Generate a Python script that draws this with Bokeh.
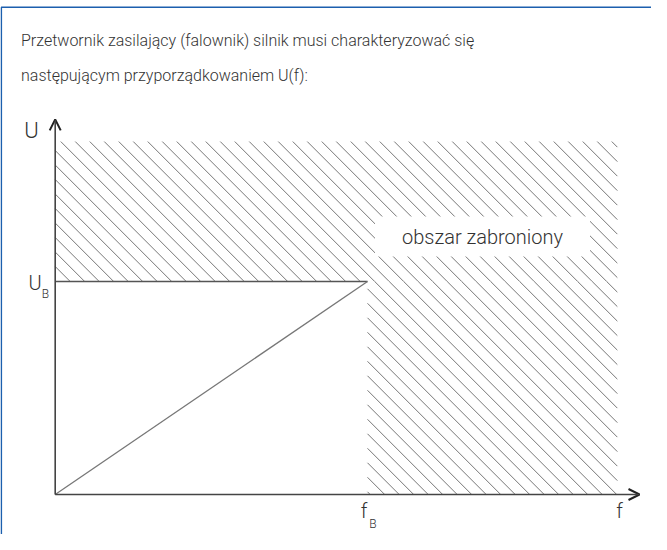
import numpy as np
from bokeh.plotting import figure
from bokeh.models import Range1d, Label, Arrow, OpenHead
from bokeh.embed import file_html
from bokeh.resources import INLINE

# ---- data (normalised units: f_B = 1, U_B = 1) ----
f_B = 1.0
U_B = 1.0
f_max = 1.80          # right end of hatched (forbidden) area
U_max = 1.657         # top of hatched (forbidden) area
f_axis_end = 1.871    # tip of f axis arrow
U_axis_end = 1.761    # tip of U axis arrow

# forbidden area as two rectangles: (f_left, f_right, U_bottom, U_top)
forbidden_rects = [(0.0, f_max, U_B, U_max), (f_B, f_max, 0.0, U_B)]
char_f = [0, f_B]
char_U = [0, U_B]
ub_f = [0, f_B]
ub_U = [U_B, U_B]

title_lines = ["Przetwornik zasilający (falownik) silnik musi charakteryzować się",
               "następującym przyporządkowaniem U(f):"]
region_label = "obszar zabroniony"

# ---- layout helpers (page pixel <-> data) ----
W, H = 651, 534
X0, Y0 = 62.7, 502.0
SX, SY = 312.3, 213.0


def px(x):
    return (x - X0) / SX


def py(y):
    return (Y0 - y) / SY


def to_px(f):
    return X0 + f * SX


def to_py(u):
    return Y0 - u * SY


p = figure(width=W, height=H, x_range=Range1d(px(8), px(8 + W)),
           y_range=Range1d(py(8 + H), py(8)), output_backend="svg",
           toolbar_location=None, min_border=0,
           x_axis_location=None, y_axis_location=None)
p.grid.visible = False
p.outline_line_color = None
p.background_fill_color = "white"
p.border_fill_color = "white"

# blue frame (left + top edges visible)
p.line([px(8.8), px(8.8), px(720)], [py(600), py(14.7), py(14.7)],
       line_color="#1c5fae", line_width=1.6)

# forbidden region hatch: 45-degree "\" lines, clipped to each rectangle
SPACING = 14.5
PHASE = -95.3
x0s, y0s, x1s, y1s = [], [], [], []
for (fl, fr, ub, ut) in forbidden_rects:
    xl, xr, yt, yb = to_px(fl), to_px(fr), to_py(ut), to_py(ub)
    cmin, cmax = xl - yb, xr - yt
    kmin = int(np.floor((cmin - PHASE) / SPACING))
    kmax = int(np.ceil((cmax - PHASE) / SPACING))
    for k in range(kmin, kmax + 1):
        c = PHASE + k * SPACING
        ya = max(yt, xl - c)
        ybb = min(yb, xr - c)
        if ybb - ya > 0.5:
            x0s.append(px(ya + c)); y0s.append(py(ya))
            x1s.append(px(ybb + c)); y1s.append(py(ybb))
p.segment(x0s, y0s, x1s, y1s, line_color="#777777", line_width=1.0)

# characteristic
p.line(ub_f, ub_U, line_color="#555555", line_width=1.5)
p.line(char_f, char_U, line_color="#777777", line_width=1.3)

# axes with arrows
p.add_layout(Arrow(end=OpenHead(size=11, line_width=2, line_color="#222222"),
                   x_start=0, y_start=0, x_end=f_axis_end, y_end=0,
                   line_color="#444444", line_width=1.6))
p.add_layout(Arrow(end=OpenHead(size=11, line_width=2, line_color="#222222"),
                   x_start=0, y_start=0, x_end=0, y_end=U_axis_end,
                   line_color="#444444", line_width=1.6))

FONT = "Roboto Light, Roboto"
TC = "#333333"

for i, t in enumerate(title_lines):
    p.add_layout(Label(x=px(28.5), y=py(48 + 35 * i), text=t, text_font=FONT,
                       text_font_size="16px", text_color=TC,
                       text_align="left", text_baseline="middle"))

p.add_layout(Label(x=px(490), y=py(244), text=region_label, text_font=FONT,
                   text_font_size="20px", text_color=TC, text_align="center",
                   text_baseline="middle", background_fill_color="white",
                   padding=dict(left=27, right=27, top=8, bottom=8)))


def lab(x, y, t, size):
    p.add_layout(Label(x=px(x), y=py(y), text=t, text_font=FONT,
                       text_font_size=size, text_color=TC,
                       text_align="center", text_baseline="middle"))


lab(39, 138, "U", "22px")
lab(42.5, 290, "U", "20px")
lab(53, 301, "B", "12px")
lab(371.5, 518, "f", "20px")
lab(380.5, 531, "B", "12px")
lab(627, 518, "f", "20px")

open("out.html", "w").write(file_html(p, INLINE))
